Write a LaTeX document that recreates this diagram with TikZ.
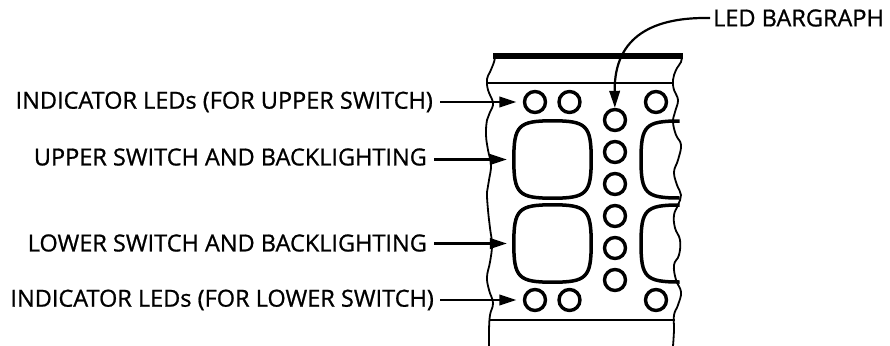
\documentclass[tikz,border=0pt]{standalone}
\usepackage{fontspec}
\setmainfont{Open Sans}
\newfontfamily\lblfont{Open Sans}[RawFeature={embolden=0.9}]
\usetikzlibrary{arrows.meta,calc}
\tikzset{
  lbl/.style={inner sep=0pt, font=\lblfont\fontsize{23.5}{26}\selectfont},
  arr/.style={line width=2.2pt, -{Triangle[length=17pt,width=10.5pt]}},
  led/.style={circle, draw, line width=3.4pt, minimum size=21pt, inner sep=0pt},
  sw/.style={draw=none, minimum width=77pt, minimum height=77pt, inner sep=0pt},
  swline/.style={line width=3.5pt, line join=round},
  edge/.style={line width=1.8pt},
}
\newcommand{\squircle}[1]{%
  \draw[swline] (#1.north)
    .. controls ($(#1.north)!0.88!(#1.north east)$) and ($(#1.east)!0.88!(#1.north east)$) .. (#1.east)
    .. controls ($(#1.east)!0.88!(#1.south east)$) and ($(#1.south)!0.88!(#1.south east)$) .. (#1.south)
    .. controls ($(#1.south)!0.88!(#1.south west)$) and ($(#1.west)!0.88!(#1.south west)$) .. (#1.west)
    .. controls ($(#1.west)!0.88!(#1.north west)$) and ($(#1.north)!0.88!(#1.north west)$) .. cycle;}
\begin{document}
\begin{tikzpicture}[x=1pt,y=-1pt]
\useasboundingbox (0,0) rectangle (890,345);
% panel edges
\draw[edge] plot[smooth,tension=0.7] coordinates {(495,56) (494,62) (490,72) (487,79) (488,90) (493,103) (490,112) (487,120) (486,135) (488,150) (491,165) (489,180) (487,192) (488,210) (490,228) (492,245) (490,262) (487,277) (489,290) (493,303) (490,315) (489,330) (489,346)};
\draw[edge] plot[smooth,tension=0.7] coordinates {(682,56) (681,62) (676,70) (673,80) (674,90) (678,100) (675,112) (673,122) (676,135) (681,145) (678,160) (674,172) (677,185) (681,195) (678,205) (674,215) (675,228) (680,240) (679,255) (674,265) (676,280) (681,292) (678,305) (674,315) (674,330) (673,346)};
\draw[line width=5pt] (493,56) -- (683,56);
\draw[line width=2.6pt] (488,83) -- (674,83);
\draw[line width=2.6pt] (490,320) -- (675,320);
% LEDs
\node[led] (u1) at (535,102) {};
\node[led] (u2) at (569.5,102) {};
\node[led] (u3) at (656,102) {};
\node[led] (l1) at (535,300) {};
\node[led] (l2) at (569.5,300) {};
\node[led] (l3) at (656,300) {};
\foreach \i/\y in {1/120,2/152,3/184,4/216,5/248,6/280}
  \node[led] (b\i) at (615,\y) {};
% switches
\node[sw] (us) at (552.5,159.5) {};
\node[sw] (ls) at (552.5,243.5) {};
\squircle{us}
\squircle{ls}
\draw[swline] (679.5,121) .. controls (645.6,121) and (641,125.6) .. (641,159.5)
  .. controls (641,193.4) and (645.6,198) .. (679.5,198);
\draw[swline] (679.5,205) .. controls (645.6,205) and (641,209.6) .. (641,243.5)
  .. controls (641,277.4) and (645.6,282) .. (679.5,282);
% labels
\node[lbl, anchor=east] (t1) at (433,102) {INDICATOR LEDs (FOR UPPER SWITCH)};
\node[lbl, anchor=east] (t2) at (427,157) {UPPER SWITCH AND BACKLIGHTING};
\node[lbl, anchor=east] (t3) at (427,243) {LOWER SWITCH AND BACKLIGHTING};
\node[lbl, anchor=east] (t4) at (434,300) {INDICATOR LEDs (FOR LOWER SWITCH)};
\node[lbl, anchor=west, inner xsep=3pt] (lb) at (710,18) {LED BARGRAPH};
% connectors
\draw[arr, shorten <=7pt, shorten >=6.5pt] (t1.east |- u1) -- (u1);
\draw[arr, shorten <=7pt, shorten >=7pt] (t2.east |- us) -- (us.west);
\draw[arr, shorten <=7pt, shorten >=7pt] (t3.east |- ls) -- (ls.west);
\draw[arr, shorten <=6pt, shorten >=6.5pt] (t4.east |- l1) -- (l1);
\draw[arr] (lb.west) .. controls (655,17) and (614,35) .. (b1);
\end{tikzpicture}
\end{document}
